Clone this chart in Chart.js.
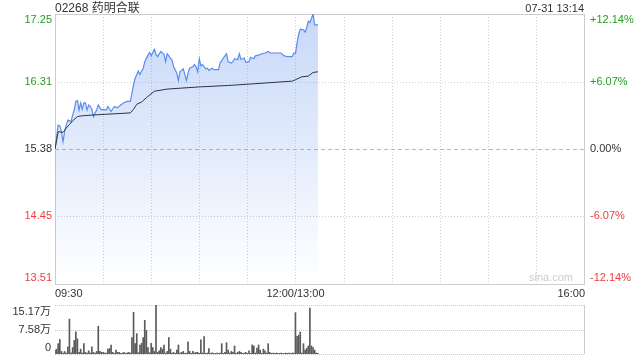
<!DOCTYPE html>
<html>
<head>
<meta charset="utf-8">
<script src="https://cdn.jsdelivr.net/npm/chart.js@4/dist/chart.umd.min.js"></script>
<style>
    html, body { margin: 0; padding: 0; background: #fff; }
    #wrap { position: relative; width: 640px; height: 360px; }
    #priceChart { position: absolute; left: 0; top: 0; }
    #volChart { position: absolute; left: 0; top: 300px; }
</style>
</head>
<body>
<div id="wrap">
    <canvas id="priceChart" width="640" height="300"></canvas>
    <canvas id="volChart" width="640" height="60"></canvas>
</div>
<script>
/* intraday chart, 02268 */
const stockTitle = "02268 药明合联";
const stamp = "07-31 13:14";
const prevClose = 15.38;
const priceTicks = [17.25, 16.31, 15.38, 14.45, 13.51];
const pctTicks = ["+12.14%", "+6.07%", "0.00%", "-6.07%", "-12.14%"];
const timeLabels = ["09:30", "12:00/13:00", "16:00"];

const priceTimes = [
    "09:30","09:32","09:33","09:34","09:35","09:36","09:37","09:38","09:40","09:41",
    "09:42","09:43","09:44","09:45","09:46","09:47","09:48","09:49","09:50","09:51",
    "09:52","09:53","09:54","09:55","09:56","09:57","09:59","10:00","10:02","10:03",
    "10:05","10:07","10:09","10:11","10:13","10:15","10:17","10:18","10:19","10:20",
    "10:22","10:23","10:24","10:25","10:26","10:28","10:29","10:30","10:32","10:33",
    "10:34","10:36","10:38","10:39","10:40","10:42","10:43","10:44","10:46","10:47",
    "10:48","10:50","10:52","10:53","10:54","10:56","10:57","10:58","10:59","11:00",
    "11:01","11:02","11:04","11:05","11:06","11:08","11:09","11:12","11:13","11:15",
    "11:17","11:18","11:20","11:21","11:22","11:24","11:25","11:26","11:28","11:29",
    "11:31","11:32","11:34","11:35","11:37","11:39","11:41","11:43","11:44","11:51",
    "11:53","11:55","11:58","11:59","12:00","13:01","13:02","13:03","13:05","13:06",
    "13:07","13:08","13:09","13:11","13:12","13:14"
];
const prices = [
    15.38,15.71,15.70,15.62,15.48,15.62,15.71,15.78,15.76,15.85,
    15.92,16.04,16.05,15.92,16.02,15.93,16.02,16.02,15.92,15.99,
    15.97,15.93,15.83,15.88,15.92,15.99,15.92,15.93,15.92,15.97,
    15.90,15.97,15.95,15.99,16.02,16.04,16.04,16.15,16.27,16.36,
    16.46,16.41,16.46,16.49,16.59,16.68,16.72,16.67,16.76,16.69,
    16.66,16.73,16.69,16.59,16.70,16.64,16.61,16.52,16.43,16.33,
    16.45,16.49,16.33,16.43,16.50,16.52,16.55,16.52,16.45,16.63,
    16.53,16.55,16.49,16.50,16.47,16.50,16.48,16.48,16.57,16.64,
    16.70,16.59,16.57,16.59,16.63,16.62,16.70,16.62,16.64,16.58,
    16.59,16.65,16.63,16.67,16.68,16.70,16.71,16.73,16.71,16.71,
    16.67,16.66,16.66,16.71,16.70,16.85,16.97,17.04,17.03,17.00,
    17.06,17.15,17.13,17.25,17.10,17.10
];

const avgTimes = [
    "09:30","09:32","09:35","09:37","09:39","09:41","09:44","09:47","09:53","10:01",
    "10:17","10:19","10:21","10:24","10:27","10:28","10:32","10:40","11:00","11:18",
    "11:32","11:58","12:00","13:04","13:08","13:11","13:14"
];
const avgPrices = [
    15.38,15.62,15.61,15.67,15.72,15.77,15.83,15.84,15.85,15.86,
    15.88,15.93,16.00,16.03,16.09,16.11,16.18,16.21,16.24,16.26,
    16.28,16.32,16.34,16.38,16.39,16.44,16.45
];

// volume in 万股, one value per minute from 09:30 (index 150 = 12:00/13:00)
const volumes = [
    1.2,1.5,3.2,4.5,0.8,0.3,0.8,0.3,2.2,10.8,
    0.4,2.0,4.2,6.9,4.7,0.5,1.5,0.3,3.2,0.5,
    0.3,1.0,0.3,2.2,0.5,0.3,0.8,8.6,0.8,0.5,
    0.5,0.3,0.3,1.5,1.7,2.8,0.5,0.2,1.2,0.5,
    0.5,0.2,0.3,0.5,0.2,0.4,0.5,0.3,5.1,12.9,
    3.2,6.3,0.4,2.8,3.3,5.1,10.4,7.3,2.0,0.4,
    3.3,2.0,0.8,15.17,0.5,1.0,2.0,1.5,2.8,0.3,
    0.8,5.1,1.5,0.3,0.5,0.2,1.2,2.8,0.3,0.5,
    0.8,0.2,0.3,3.8,0.8,0.2,0.8,0.3,0.5,0.5,
    0.2,4.4,0.3,5.4,0.2,0.3,1.7,0.2,0.4,0.2,
    0.2,0.3,0.2,0.3,3.2,0.2,0.5,3.5,1.2,0.3,
    0.8,0.5,2.5,0.2,0.5,0.8,0.5,0.2,0.3,0.5,
    0.2,1.0,0.2,2.8,2.5,0.3,1.8,2.8,1.2,0.2,
    1.5,1.0,0.3,3.2,0.5,0.2,0.3,0.2,0.3,0.2,
    0.2,0.3,0.2,0.2,0.3,0.2,0.3,0.2,0.3,0.3,
    12.8,5.5,5.8,6.8,0.3,3.2,1.2,1.8,2.5,14.2,
    2.5,2.0,1.2,0.3,0.2
];
const volTicks = [15.17, 7.58, 0];
const volTickLabels = ["15.17万", "7.58万", "0"];

/* ---------- helpers ---------- */
const FONT = '"Liberation Sans", Arial, "Noto Sans CJK SC", sans-serif';
const UP = "#1f9f1f", DOWN = "#f03c3c", TEXT = "#333333";

// minutes from 09:30, lunch break collapsed (12:00 and 13:00 share one slot)
function toMin(t) {
    const [h, m] = t.split(":").map(Number);
    return h >= 13 ? 150 + (h - 13) * 60 + m : (h - 9) * 60 + m - 30;
}
function hline(ctx, x1, x2, y) {
    ctx.beginPath(); ctx.moveTo(x1, y); ctx.lineTo(x2, y); ctx.stroke();
}
function vline(ctx, x, y1, y2) {
    ctx.beginPath(); ctx.moveTo(x, y1); ctx.lineTo(x, y2); ctx.stroke();
}
function tickColor(v) {
    return v > prevClose ? UP : v < prevClose ? DOWN : TEXT;
}

/* ---------- price panel ---------- */
const priceFrame = {
    id: "priceFrame",
    beforeDatasetsDraw(chart) {
        const { ctx, chartArea: a, scales: { x, y } } = chart;
        ctx.save();
        ctx.lineWidth = 1;
        ctx.strokeStyle = "#cfcfcf";
        ctx.setLineDash([1, 2]);
        for (let m = 30; m < 330; m += 30) {
            const px = Math.round(x.getPixelForValue(m)) + 0.5;
            vline(ctx, px, a.top, a.bottom);
        }
        priceTicks.slice(1, -1).forEach(v => {
            if (v === prevClose) return;
            hline(ctx, a.left, a.right, Math.round(y.getPixelForValue(v)) + 0.5);
        });
        ctx.strokeStyle = "#f2a57a";
        ctx.setLineDash([4, 3]);
        hline(ctx, a.left, a.right, Math.round(y.getPixelForValue(prevClose)) + 0.5);
        ctx.setLineDash([]);
        ctx.strokeStyle = "#cccccc";
        ctx.strokeRect(Math.round(a.left) + 0.5, Math.round(a.top) + 0.5,
            Math.round(a.right - a.left), Math.round(a.bottom - a.top));
        ctx.restore();
    },
    afterDraw(chart) {
        const { ctx, chartArea: a, scales: { x, y } } = chart;
        ctx.save();
        ctx.font = "12px " + FONT;
        ctx.fillStyle = TEXT;
        ctx.textBaseline = "alphabetic";
        ctx.textAlign = "left";
        ctx.fillText(stockTitle, a.left, 12);
        ctx.font = "11px " + FONT;
        ctx.textAlign = "right";
        ctx.fillText(stamp, a.right, 12);

        ctx.textBaseline = "middle";
        priceTicks.forEach((v, i) => {
            let py = y.getPixelForValue(v);
            py = Math.min(Math.max(py, a.top + 6), a.bottom - 6);
            ctx.fillStyle = tickColor(v);
            ctx.textAlign = "right";
            ctx.fillText(v.toFixed(2), a.left - 3, py);
            ctx.textAlign = "left";
            ctx.fillText(pctTicks[i], a.right + 6, py);
        });

        ctx.fillStyle = TEXT;
        ctx.textAlign = "left";
        ctx.fillText(timeLabels[0], x.getPixelForValue(0), a.bottom + 10);
        ctx.textAlign = "center";
        ctx.fillText(timeLabels[1], x.getPixelForValue(150), a.bottom + 10);
        ctx.textAlign = "right";
        ctx.fillText(timeLabels[2], x.getPixelForValue(330) + 1, a.bottom + 10);

        ctx.fillStyle = "#cccccc";
        ctx.textAlign = "right";
        ctx.fillText("sina.com", a.right - 11, a.bottom - 6);
        ctx.restore();
    }
};

function fillGradient(context) {
    const a = context.chart.chartArea;
    if (!a) return "rgba(90,140,235,0.2)";
    const g = context.chart.ctx.createLinearGradient(0, a.top, 0, a.bottom);
    g.addColorStop(0, "rgba(90,140,235,0.34)");
    g.addColorStop(1, "rgba(90,140,235,0.0)");
    return g;
}

new Chart(document.getElementById("priceChart"), {
    type: "line",
    data: {
        datasets: [{
            data: priceTimes.map((t, i) => ({ x: toMin(t), y: prices[i] })),
            borderColor: "#5a8cf0",
            borderWidth: 1.2,
            backgroundColor: fillGradient,
            fill: "start",
            pointRadius: 0,
            tension: 0,
            order: 1
        }, {
            data: avgTimes.map((t, i) => ({ x: toMin(t), y: avgPrices[i] })),
            borderColor: "#2c3440",
            borderWidth: 1,
            fill: false,
            pointRadius: 0,
            tension: 0,
            order: 0
        }]
    },
    options: {
        responsive: false,
        animation: false,
        devicePixelRatio: 1,
        layout: { padding: { left: 55, right: 56, top: 14, bottom: 16 } },
        plugins: { legend: { display: false }, tooltip: { enabled: false } },
        scales: {
            x: { type: "linear", min: 0, max: 330, display: false },
            y: { min: priceTicks[priceTicks.length - 1], max: priceTicks[0], display: false }
        }
    },
    plugins: [priceFrame]
});

/* ---------- volume panel ---------- */
const volFrame = {
    id: "volFrame",
    beforeDatasetsDraw(chart) {
        const { ctx, chartArea: a, scales: { y } } = chart;
        ctx.save();
        ctx.lineWidth = 1;
        ctx.strokeStyle = "#c8c8c8";
        ctx.setLineDash([1, 1]);
        volTicks.forEach(v => hline(ctx, a.left, a.right, Math.round(y.getPixelForValue(v)) + 0.5));
        ctx.setLineDash([]);
        ctx.strokeStyle = "#cccccc";
        vline(ctx, Math.round(a.right) + 0.5, a.top, a.bottom);
        ctx.restore();
    },
    afterDraw(chart) {
        const { ctx, chartArea: a, scales: { y } } = chart;
        ctx.save();
        ctx.font = "11px " + FONT;
        ctx.fillStyle = TEXT;
        ctx.textAlign = "right";
        ctx.textBaseline = "middle";
        volTicks.forEach((v, i) => {
            let py = y.getPixelForValue(v);
            py = Math.min(Math.max(py, a.top + 7), a.bottom - 6);
            ctx.fillText(volTickLabels[i], a.left - 4, py);
        });
        ctx.restore();
    }
};

new Chart(document.getElementById("volChart"), {
    type: "bar",
    data: {
        datasets: [{
            data: volumes.map((v, i) => ({ x: i, y: v })),
            backgroundColor: "#5a5a5a",
            borderWidth: 0,
            barThickness: 1
        }]
    },
    options: {
        responsive: false,
        animation: false,
        devicePixelRatio: 1,
        layout: { padding: { left: 55, right: 56, top: 5, bottom: 6 } },
        plugins: { legend: { display: false }, tooltip: { enabled: false } },
        scales: {
            x: { type: "linear", min: 0, max: 330, offset: false, display: false },
            y: { min: 0, max: volTicks[0], display: false }
        }
    },
    plugins: [volFrame]
});
</script>
</body>
</html>
